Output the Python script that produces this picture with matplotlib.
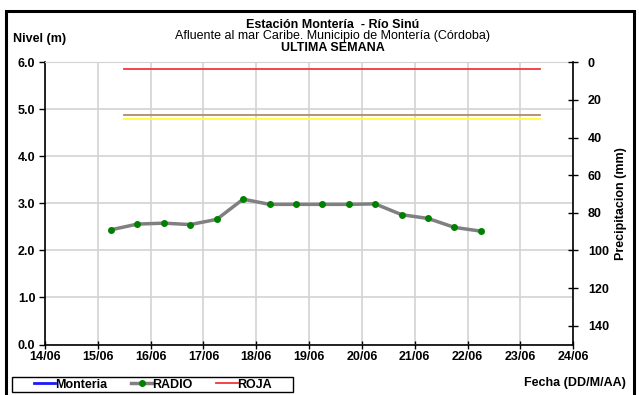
import matplotlib
matplotlib.use('Agg')
import matplotlib.pyplot as plt
import matplotlib.dates as mdates
from matplotlib.patches import Rectangle
import pandas as pd

plt.rcParams['font.family'] = ['Liberation Sans', 'DejaVu Sans']

# ---- data ----
tick_dates = pd.date_range('2023-06-14', '2023-06-24', freq='D')
times = pd.to_datetime([
    '2023-06-15 06:00', '2023-06-15 18:00', '2023-06-16 06:00', '2023-06-16 18:00',
    '2023-06-17 06:00', '2023-06-17 18:00', '2023-06-18 06:00', '2023-06-18 18:00',
    '2023-06-19 06:00', '2023-06-19 18:00', '2023-06-20 06:00', '2023-06-20 18:00',
    '2023-06-21 06:00', '2023-06-21 18:00', '2023-06-22 06:00'])
levels = [2.44, 2.56, 2.58, 2.55, 2.66, 3.09, 2.98, 2.98, 2.98, 2.98, 2.99, 2.76, 2.68, 2.49, 2.41]
threshold_span = pd.to_datetime(['2023-06-15 12:00', '2023-06-23 09:00'])
roja = 5.85
naranja = 4.88
amarilla = 4.79
level_ticks = [0, 1, 2, 3, 4, 5, 6]
precip_ticks = [0, 20, 40, 60, 80, 100, 120, 140]

FS = 9
fig = plt.figure(figsize=(6.39, 3.95), dpi=100)
ax = fig.add_axes([45/639, 1-344.5/395, (573.3-45)/639, (344.5-62.3)/395])

bold = dict(fontweight='bold', fontsize=FS)

ax.set_xlim(tick_dates[0], tick_dates[-1])
ax.set_ylim(0, 6)
ax.set_xticks(tick_dates)
ax.xaxis.set_major_formatter(mdates.DateFormatter('%d/%m'))
ax.set_yticks(level_ticks)
ax.set_yticklabels([f'{v:.1f}' for v in level_ticks])
for lab in ax.get_xticklabels() + ax.get_yticklabels():
    lab.set_fontweight('bold')
    lab.set_fontsize(FS)
ax.grid(True, color='#d3d3d3', lw=1.2)
ax.set_axisbelow(True)
ax.spines['top'].set_color('#d3d3d3')
ax.spines['right'].set_visible(False)
ax.spines['left'].set_linewidth(1.2)
ax.spines['bottom'].set_linewidth(1.2)
ax.tick_params(axis='y', direction='out', length=4, width=1, pad=3)
ax.tick_params(axis='x', direction='inout', length=6, width=1, pad=2)

# thresholds
l_roja, = ax.plot(threshold_span, [roja, roja], color='#f0363a', lw=1.3, label='ROJA')
ax.plot(threshold_span, [naranja, naranja], color='#b08a6a', lw=1.3)
ax.plot(threshold_span, [amarilla, amarilla], color='#ffff33', lw=1.3)
# series
l_mont, = ax.plot([], [], color='#1a1aff', lw=2, label='Monteria')
l_radio, = ax.plot(times, levels, color='#808080', lw=2.5, marker='o',
                   markersize=4, markerfacecolor='#008000', markeredgecolor='#008000',
                   label='RADIO')

ax2 = ax.twinx()
ax2.set_ylim(150, 0)
ax2.set_yticks(precip_ticks)
for lab in ax2.get_yticklabels():
    lab.set_fontweight('bold')
    lab.set_fontsize(FS)
for s in ['top', 'left', 'bottom']:
    ax2.spines[s].set_visible(False)
ax2.spines['right'].set_linewidth(1.2)
ax2.tick_params(axis='y', direction='inout', length=7, width=1, pad=7)
ax2.set_ylabel('Precipitacion (mm)', fontweight='bold', fontsize=FS, labelpad=4)

# titles
fig.text(0.521, 0.937, 'Estación Montería  - Río Sinú', ha='center', va='center', **bold)
fig.text(0.521, 0.909, 'Afluente al mar Caribe. Municipio de Montería (Córdoba)',
         ha='center', va='center', fontsize=FS)
fig.text(0.521, 0.879, 'ULTIMA SEMANA', ha='center', va='center', **bold)
fig.text(0.021, 0.901, 'Nivel (m)', ha='left', va='center', **bold)
fig.text(0.98, 0.03, 'Fecha (DD/M/AA)', ha='right', va='center', **bold)

leg = fig.legend(handles=[l_mont, l_radio, l_roja], loc='center',
                 bbox_to_anchor=(153/639, 1-384.5/395), ncol=3, frameon=False,
                 prop=dict(weight='bold', size=FS),
                 handlelength=1.7, columnspacing=1.9, handletextpad=0.0,
                 borderpad=0.1, borderaxespad=0)
fig.patches.append(Rectangle((12/639, 1-392/395), (293-12)/639, 15/395,
                             transform=fig.transFigure, fill=False, ec='black', lw=1.0))

fig.patches.append(Rectangle((6/639, -0.02), (634-6)/639, 1.02 - 11/395,
                             transform=fig.transFigure, fill=False, ec='black', lw=2.2))

fig.savefig('out.png', dpi=100)
